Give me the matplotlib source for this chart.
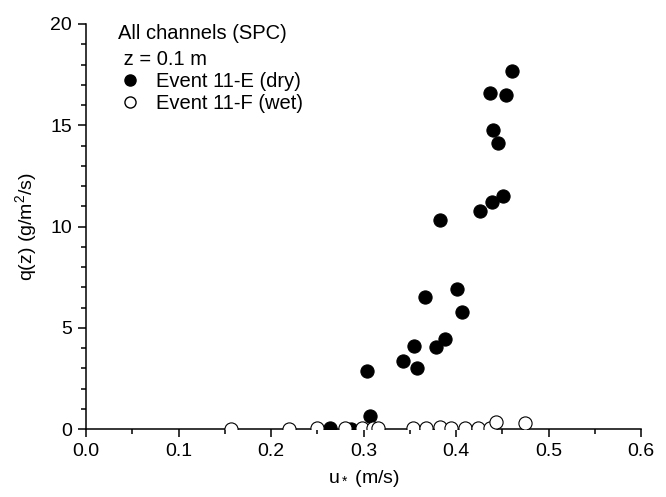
import matplotlib
matplotlib.use("Agg")
import matplotlib.pyplot as plt
from matplotlib.lines import Line2D
from matplotlib.ticker import MultipleLocator, FormatStrFormatter

plt.rcParams['font.family'] = ['Liberation Sans', 'DejaVu Sans']
plt.rcParams['mathtext.fontset'] = 'custom'
plt.rcParams['mathtext.rm'] = 'Liberation Sans'
plt.rcParams['mathtext.it'] = 'Liberation Sans'

# Event 11-E (dry)
dry_u = [0.264, 0.286, 0.304, 0.307, 0.343, 0.355, 0.358, 0.366, 0.378, 0.383,
         0.388, 0.401, 0.406, 0.426, 0.437, 0.439, 0.440, 0.445, 0.451, 0.454, 0.460]
dry_q = [0.05, 0.02, 2.86, 0.66, 3.34, 4.08, 3.01, 6.53, 4.03, 10.31,
         4.44, 6.90, 5.79, 10.75, 16.58, 11.19, 14.77, 14.14, 11.52, 16.49, 17.68]

# Event 11-F (wet)
wet_u = [0.157, 0.219, 0.250, 0.280, 0.298, 0.310, 0.316, 0.354, 0.368, 0.383,
         0.395, 0.410, 0.424, 0.437, 0.443, 0.475]
wet_q = [0.02, 0.02, 0.03, 0.03, 0.05, 0.04, 0.03, 0.03, 0.05, 0.1,
         0.06, 0.04, 0.04, 0.05, 0.35, 0.31]

fig = plt.figure(figsize=(6.66, 4.97), dpi=100)
ax = fig.add_axes([86/666, 1-429/497, (641-86)/666, (429-24)/497])

ax.scatter(dry_u, dry_q, s=90, c='black', edgecolors='black', linewidths=0.8, zorder=3)
ax.scatter(wet_u, wet_q, s=90, facecolors='white', edgecolors='black', linewidths=0.8, zorder=4)

ax.set_xlim(0, 0.6)
ax.set_ylim(0, 20)
ax.xaxis.set_major_locator(MultipleLocator(0.1))
ax.xaxis.set_minor_locator(MultipleLocator(0.05))
ax.xaxis.set_major_formatter(FormatStrFormatter('%.1f'))
ax.yaxis.set_major_locator(MultipleLocator(5))
ax.yaxis.set_minor_locator(MultipleLocator(1))

for side in ['top', 'right']:
    ax.spines[side].set_visible(False)
for side in ['left', 'bottom']:
    ax.spines[side].set_linewidth(1.1)

ax.tick_params(which='major', direction='out', length=6, width=1.1, labelsize=14, pad=4)
ax.tick_params(which='minor', direction='out', length=3.5, width=1.1)

ax.set_xlabel('u$_*$ (m/s)', fontsize=14, labelpad=6)
ax.set_ylabel('q(z) (g/m$^2$/s)', fontsize=14, labelpad=8)

handles = [
    Line2D([], [], linestyle='none', marker='o', markersize=8, markerfacecolor='black',
           markeredgecolor='black'),
    Line2D([], [], linestyle='none', marker='o', markersize=8, markerfacecolor='white',
           markeredgecolor='black'),
]
leg = ax.legend(handles, ['Event 11-E (dry)', 'Event 11-F (wet)'],
                title='All channels (SPC)\n z = 0.1 m', title_fontsize=14.5, fontsize=14.5,
                loc='upper left', bbox_to_anchor=(118/666, 1-24/497),
                bbox_transform=fig.transFigure, frameon=False, alignment='left',
                borderpad=0, labelspacing=0.15, handlelength=1.2, handletextpad=0.7,
                borderaxespad=0)
leg.get_title().set_linespacing(1.45)

fig.savefig('out.png', dpi=100)
